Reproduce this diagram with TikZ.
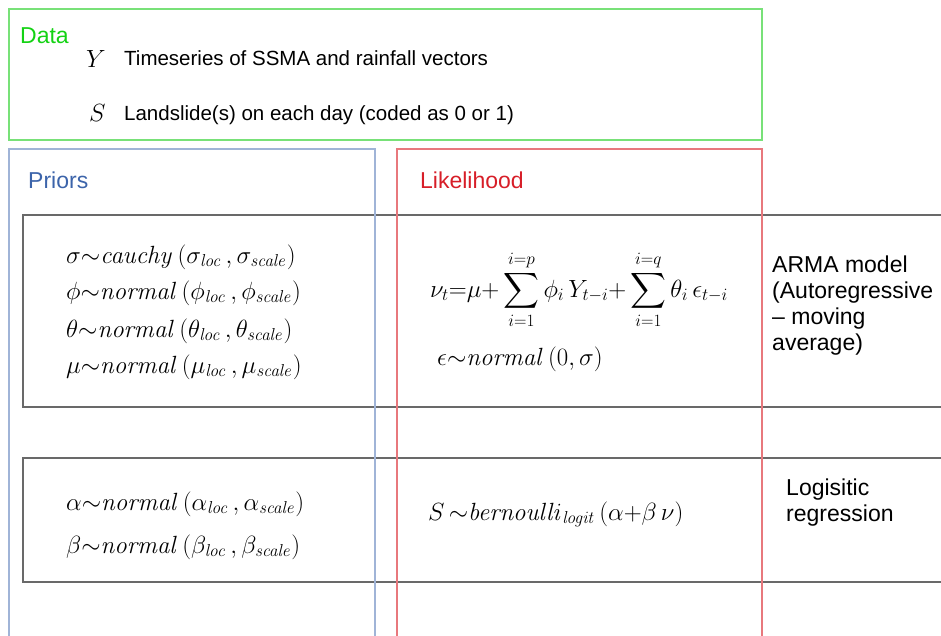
\documentclass[tikz,border=0pt]{standalone}
\usepackage{exscale}
\usepackage[no-math]{fontspec}
\setmainfont{Liberation Sans}
\definecolor{datagreen}{RGB}{120,225,120}
\definecolor{datatext}{RGB}{20,210,20}
\definecolor{priorline}{RGB}{160,180,215}
\definecolor{priortext}{RGB}{60,100,170}
\definecolor{likeline}{RGB}{232,120,125}
\definecolor{liketext}{RGB}{215,30,40}
\definecolor{boxgray}{RGB}{105,105,105}
\tikzset{
  lbl/.style={anchor=base west, inner sep=0pt, font=\fontsize{20.5}{26}\selectfont},
  ttl/.style={anchor=base west, inner sep=0pt, font=\fontsize{23}{26}\selectfont},
  eq/.style={anchor=base west, inner sep=0pt, font=\fontsize{25}{30}\selectfont},
  eqbig/.style={anchor=base west, inner sep=0pt, font=\fontsize{24.5}{30}\selectfont},
  var/.style={anchor=base west, inner sep=0pt, font=\fontsize{29}{32}\selectfont},
}
\begin{document}
\begin{tikzpicture}[x=1pt,y=-1pt]
\useasboundingbox (0,0) rectangle (941,635);
% frames
\draw[datagreen, line width=1.5pt] (9,9) rectangle (762,140);
\draw[boxgray, line width=1.5pt] (945,215) -- (23,215) -- (23,407) -- (945,407);
\draw[boxgray, line width=1.5pt] (945,458) -- (23,458) -- (23,582) -- (945,582);
\draw[priorline, line width=1.3pt] (9,640) -- (9,149) -- (375,149) -- (375,640);
\draw[likeline, line width=1.3pt] (397,640) -- (397,149) -- (762,149) -- (762,640);
% titles
\node[ttl, text=datatext] (data) at (20,43) {Data};
\node[ttl, text=priortext] (priors) at (28,188) {Priors};
\node[ttl, text=liketext] (like) at (420,188) {Likelihood};
% data
\node[var] (Y) at (86,67) {$Y$};
\node[lbl] (Ytxt) at (124,65) {Timeseries of SSMA and rainfall vectors};
\node[var] (S) at (89,121) {$S$};
\node[lbl] (Stxt) at (124,120) {Landslide(s) on each day (coded as 0 or 1)};
% priors
\node[eq] (p1) at (66,263) {$\sigma{\sim}\mathit{cauchy}\,(\sigma_{\mathit{loc}}\,,\sigma_{\mathit{scale}})$};
\node[eq] (p2) at (66,299) {$\phi{\sim}\mathit{normal}\,(\phi_{\mathit{loc}}\,,\phi_{\mathit{scale}})$};
\node[eq] (p3) at (66,337) {$\theta{\sim}\mathit{normal}\,(\theta_{\mathit{loc}}\,,\theta_{\mathit{scale}})$};
\node[eq] (p4) at (66,373) {$\mu{\sim}\mathit{normal}\,(\mu_{\mathit{loc}}\,,\mu_{\mathit{scale}})$};
\node[eq] (p5) at (66,510) {$\alpha{\sim}\mathit{normal}\,(\alpha_{\mathit{loc}}\,,\alpha_{\mathit{scale}})$};
\node[eq] (p6) at (66,553) {$\beta{\sim}\mathit{normal}\,(\beta_{\mathit{loc}}\,,\beta_{\mathit{scale}})$};
% likelihood
\node[eqbig] (arma) at (430,297) {$\displaystyle \nu_t{=}\mu{+}\sum_{i=1}^{i=p}\phi_i\,Y_{t-i}{+}\sum_{i=1}^{i=q}\theta_i\,\epsilon_{t-i}$};
\node[eq] (eps) at (437,365) {$\epsilon{\sim}\mathit{normal}\,(0,\sigma)$};
\node[eq] (bern) at (428,520) {$S\,{\sim}\mathit{bernoulli}_{\mathit{logit}}\,(\alpha{+}\beta\,\nu)$};
% right labels
\node[ttl, align=left, anchor=north west] (armatxt) at (772,256) {ARMA model\\(Autoregressive\\-- moving\\average)};
\node[ttl, align=left, anchor=north west] (logtxt) at (786,479) {Logisitic\\regression};
\end{tikzpicture}
\end{document}
